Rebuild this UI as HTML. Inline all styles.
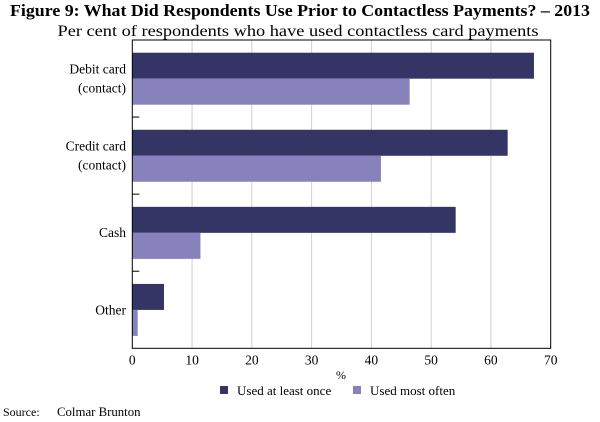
<!DOCTYPE html>
<html><head><meta charset="utf-8"><style>
body{margin:0;background:#fff;width:600px;height:422px;overflow:hidden}
svg{display:block;font-family:"Liberation Serif",serif}
</style></head><body>
<svg id="c" width="600" height="422">
<text x="300" y="16" text-anchor="middle" font-weight="bold" font-size="16.5" textLength="580" lengthAdjust="spacingAndGlyphs" fill="#000">Figure 9: What Did Respondents Use Prior to Contactless Payments? – 2013</text>
<text x="298" y="36" text-anchor="middle" font-size="16" textLength="481" lengthAdjust="spacingAndGlyphs" fill="#000">Per cent of respondents who have used contactless card payments</text>
<g id="grid"></g><g id="bars"></g><g id="axes"></g>
<text x="341" y="379" text-anchor="middle" font-size="12">%</text>
<rect x="220" y="386" width="8" height="8" fill="#353565"/>
<text x="237" y="395" font-size="13">Used at least once</text>
<rect x="353" y="386" width="8" height="8" fill="#8882bc"/>
<text x="370" y="395" font-size="13">Used most often</text>
<text x="3" y="416" font-size="12">Source:</text>
<text x="57" y="416" font-size="12.8">Colmar Brunton</text>
</svg>
<script>
const categories=[["Debit card","(contact)"],["Credit card","(contact)"],["Cash"],["Other"]];
const usedOnce=[67.2,62.8,54.1,5.3];
const usedMost=[46.4,41.6,11.4,0.9];
const xTicks=[0,10,20,30,40,50,60,70];
const L=132.3,R=550.7,T=40,B=348.3,XMAX=70;
const ns="http://www.w3.org/2000/svg";
const x=v=>L+(R-L)*v/XMAX;
const gh=(B-T)/categories.length;
function mk(tag,attrs,parent){const e=document.createElementNS(ns,tag);for(const k in attrs)e.setAttribute(k,attrs[k]);document.getElementById(parent).appendChild(e);return e;}
xTicks.forEach((t,i)=>{
 if(i>0&&i<xTicks.length-1){const g=mk('line',{x1:x(t),x2:x(t),y1:T,y2:B,stroke:'#d0d0d0','stroke-width':1},'grid');
 
 }
 const tx=mk('text',{x:x(t),y:B+16,'text-anchor':'middle','font-size':13.5},'axes');tx.textContent=t;
 
 
});
categories.forEach((c,i)=>{
 const y0=T+i*gh;
 const b1=mk('rect',{x:L,y:y0+12.7,width:x(usedOnce[i])-L,height:26,fill:'#353565'},'bars');
 
 
 const b2=mk('rect',{x:L,y:y0+38.7,width:x(usedMost[i])-L,height:26,fill:'#8882bc'},'bars');
 
 
 const mid=y0+gh/2;
 c.forEach((ln,j)=>{const t=mk('text',{x:126,y:mid+4.5+(j-(c.length-1)/2)*19,'text-anchor':'end','font-size':13.5},'axes');t.textContent=ln;
 
 });
 if(i>0){const tk=mk('line',{x1:L,x2:L+7,y1:y0,y2:y0,stroke:'#000','stroke-width':1},'axes');
 
 }
});
const fr=mk('rect',{x:L,y:T,width:R-L,height:B-T,fill:'none',stroke:'#000','stroke-width':1},'axes');


</script>
</body></html>
